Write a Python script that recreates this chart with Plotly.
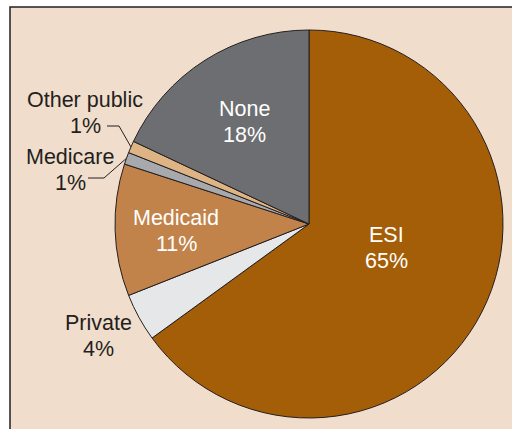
import math
import plotly.graph_objects as go

# ---- data ----
categories = ["ESI", "Private", "Medicaid", "Medicare", "Other public", "None"]
shares = [65, 4, 11, 1, 1, 18]

# ---- styles ----
colors = ["#A55E08", "#E6E7E8", "#C1834A", "#A7A9AC", "#DFB485", "#6D6E71"]
W, H = 512, 429
CX, CY, R = 309, 224, 194          # pie centre / radius in pixels
FONT = "Liberation Sans"
FS = 21.5
LINE_GAP = 26

def px(x, y):
    return x / W, 1 - y / H

fig = go.Figure()
fig.add_trace(go.Pie(
    labels=categories,
    values=shares,
    sort=False,
    direction="clockwise",
    rotation=0,
    marker=dict(colors=colors, line=dict(color="#231F20", width=1)),
    textinfo="none",
    hoverinfo="label+percent",
    showlegend=False,
    domain=dict(x=[(CX - R) / W, (CX + R) / W],
                y=[(H - CY - R) / H, (H - CY + R) / H]),
))

total = sum(shares)
cum = 0
mids = []
for v in shares:
    mids.append((cum + v / 2) / total * 2 * math.pi)
    cum += v

def polar(i, f):
    a = mids[i]
    return CX + f * R * math.sin(a), CY - f * R * math.cos(a)

# inside labels: radial factor, pixel nudge, colour
inside = {"ESI": (0.42, 5, -13, "white"),
          "Medicaid": (0.70, 3, 3, "white"),
          "None": (0.62, 0, 0, "white")}
outside_pos = {"Private": (98, 336), "Other public": (85, 113), "Medicare": (70, 170)}

annotations = []
for i, (c, v) in enumerate(zip(categories, shares)):
    if c in inside:
        f, dx, dy, col = inside[c]
        x, y = polar(i, f)
        x += dx
        y += dy
    else:
        x, y = outside_pos[c]
        col = "#231F20"
    for txt, yy in ((c, y - LINE_GAP / 2), (f"{v}%", y + LINE_GAP / 2)):
        ax_, ay_ = px(x, yy)
        annotations.append(dict(
            x=ax_, y=ay_, xref="paper", yref="paper", showarrow=False,
            text=txt, align="center",
            font=dict(family=FONT, size=FS, color=col),
            xanchor="center", yanchor="middle",
        ))

shapes = [dict(type="rect", xref="paper", yref="paper",
               x0=10 / W, x1=1.02, y0=-0.02, y1=1 - 7 / H,
               fillcolor="#F1DDCC", line=dict(color="#231F20", width=1.5),
               layer="below")]

# leader lines for the two tiny slices
leaders = {"Other public": ((107, 126), (119, 126)), "Medicare": ((88, 178), (104, 178))}
for i, c in enumerate(categories):
    if c in leaders:
        (sx, sy), (ex, ey) = leaders[c]
        tx, ty = polar(i, 1.0)
        p = [px(sx, sy), px(ex, ey), px(tx, ty)]
        path = "M {} {} L {} {} L {} {}".format(p[0][0], p[0][1], p[1][0], p[1][1], p[2][0], p[2][1])
        shapes.append(dict(type="path", xref="paper", yref="paper", path=path,
                           line=dict(color="#231F20", width=1)))

fig.update_layout(
    width=W, height=H,
    margin=dict(l=0, r=0, t=0, b=0),
    paper_bgcolor="white",
    annotations=annotations,
    shapes=shapes,
)
fig.write_html("out.html")
